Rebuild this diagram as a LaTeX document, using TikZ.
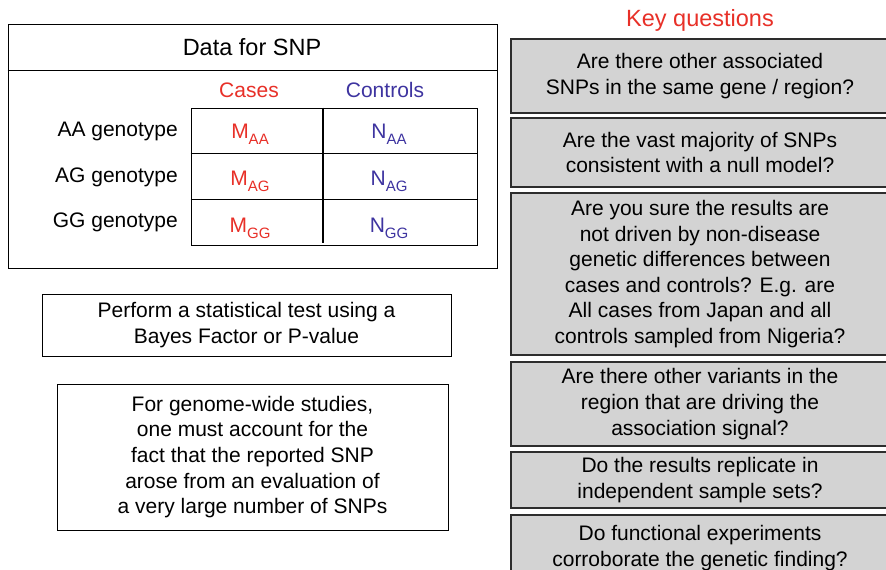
\documentclass[tikz,border=0pt]{standalone}
\usepackage{fontspec}
\setmainfont{Liberation Sans}
\definecolor{kred}{RGB}{232,48,40}
\definecolor{kblue}{RGB}{62,52,160}
\definecolor{qgray}{RGB}{211,211,211}
\definecolor{qline}{RGB}{45,45,45}
\tikzset{
  lbox/.style={draw=black, line width=1pt, inner sep=0pt},
  qbox/.style={draw=qline, fill=qgray, line width=1.4pt, inner sep=0pt, minimum width=378pt, align=center,
    font=\fontsize{21}{25.6}\selectfont},
  txt/.style={inner sep=0pt, font=\fontsize{21}{25.6}\selectfont},
  big/.style={inner sep=0pt, font=\fontsize{23.5}{28}\selectfont},
  sub/.style={font=\fontsize{15}{15}\selectfont}
}
\newcommand{\gsub}[2]{#1\raisebox{-6pt}{\fontsize{15}{15}\selectfont #2}}
\begin{document}
\begin{tikzpicture}[x=1pt,y=-1pt]
\useasboundingbox (0,0) rectangle (886,570);
\fill[white] (0,0) rectangle (886,570);
% Data box
\node[lbox, minimum width=489pt, minimum height=244pt] (data) at (252.5,146) {};
\coordinate (hl) at (0,70);
\draw[line width=1pt] (data.west |- hl) -- (data.east |- hl);
\node[big, anchor=base] (dtitle) at (252,55) {Data for SNP};
\node[txt, anchor=base, text=kred] (cases) at (249,97) {Cases};
\node[txt, anchor=base, text=kblue] (controls) at (385,97) {Controls};
% table
\node[lbox, minimum width=286pt, minimum height=137pt] (tab) at (334,176.5) {};
\coordinate (r1) at (0,153);
\coordinate (r2) at (0,199);
\coordinate (vc) at (323,0);
\coordinate (vb) at (0,243);
\draw[line width=1pt] (tab.west |- r1) -- (tab.east |- r1);
\draw[line width=1pt] (tab.west |- r2) -- (tab.east |- r2);
\draw[line width=1.6pt] (tab.north -| vc) -- (vc |- vb);
\node[txt, anchor=base east] (laa) at (178,136) {AA genotype};
\node[txt, anchor=base east] (lag) at (178,182) {AG genotype};
\node[txt, anchor=base east] (lgg) at (178,227) {GG genotype};
\node[txt, anchor=base, text=kred] (maa) at (250,138) {\gsub{M}{AA}};
\node[txt, anchor=base, text=kred] (mag) at (250,185) {\gsub{M}{AG}};
\node[txt, anchor=base, text=kred] (mgg) at (250,232) {\gsub{M}{GG}};
\node[txt, anchor=base, text=kblue] (naa) at (389,138) {\gsub{N}{AA}};
\node[txt, anchor=base, text=kblue] (nag) at (389,185) {\gsub{N}{AG}};
\node[txt, anchor=base, text=kblue] (ngg) at (389,232) {\gsub{N}{GG}};
% left boxes
\node[lbox, minimum width=409pt, minimum height=62pt, align=center, font=\fontsize{21}{25.6}\selectfont] (test) at (246.5,325)
  {Perform a statistical test using a\\Bayes Factor or P-value};
\node[lbox, minimum width=391pt, minimum height=146pt, align=center, font=\fontsize{21}{25.6}\selectfont] (gw) at (252.5,457)
  {For genome-wide studies,\\one must account for the\\fact that the reported SNP\\arose from an evaluation of\\a very large number of SNPs};
% key questions
\node[big, anchor=base, text=kred] (kq) at (700,27) {Key questions};
\node[qbox, minimum height=74pt] (q1) at (700,76) {Are there other associated\\SNPs in the same gene / region?};
\node[qbox, minimum height=69pt] (q2) at (700,152.5) {Are the vast majority of SNPs\\consistent with a null model?};
\node[qbox, minimum height=162pt] (q3) at (700,274) {Are you sure the results are\\not driven by non-disease\\genetic differences between\\cases and controls? E.g. are\\All cases from Japan and all\\controls sampled from Nigeria?};
\node[qbox, minimum height=84pt] (q4) at (700,404) {Are there other variants in the\\region that are driving the\\association signal?};
\node[qbox, minimum height=56pt] (q5) at (700,480) {Do the results replicate in\\independent sample sets?};
\node[qbox, minimum height=66pt] (q6) at (700,548) {Do functional experiments\\corroborate the genetic finding?};
\end{tikzpicture}
\end{document}
